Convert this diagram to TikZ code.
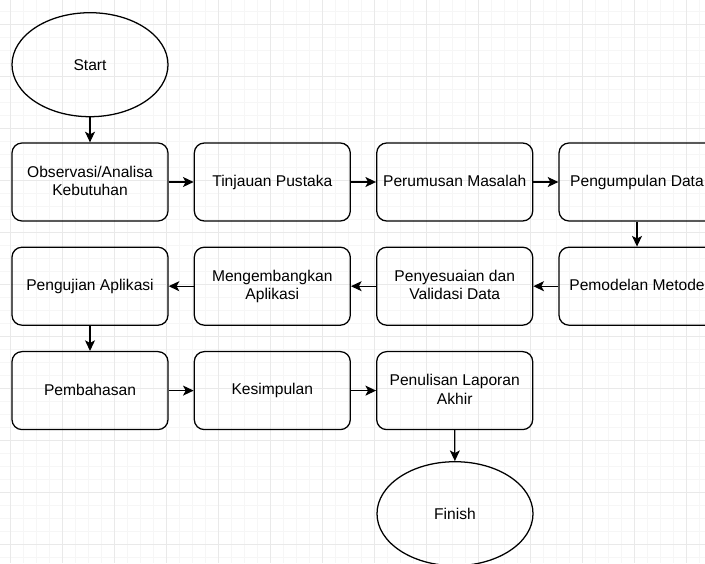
\documentclass[tikz,border=0pt]{standalone}
\usepackage{fontspec}
\setmainfont{Liberation Sans}
\usetikzlibrary{shapes.geometric,arrows.meta}
\definecolor{gridminor}{HTML}{F6F6F6}
\definecolor{gridmajor}{HTML}{E9E9E9}
\tikzset{
  stepbox/.style={draw, rounded corners=7.5pt, line width=0.95pt, minimum width=117pt,
    minimum height=58.5pt, align=center, font=\fontsize{11.7pt}{13.8pt}\selectfont,
    execute at begin node=\rule{0pt}{9pt}, execute at end node=\rule[-2pt]{0pt}{2pt}},
  terminal/.style={draw, ellipse, line width=0.95pt, minimum width=117pt,
    minimum height=78pt, font=\fontsize{11.7pt}{13.8pt}\selectfont},
  flow/.style={line width=0.95pt, -{Stealth[length=8pt, width=7.5pt, inset=2pt]}}
}
\begin{document}
\begin{tikzpicture}[x=0.75pt, y=-0.75pt]
  \useasboundingbox (0,0) rectangle (705,563);
  \clip (0,0) rectangle (705,563);
  \fill[white] (0,0) rectangle (705,563);
  \foreach \gx in {-2.3,10.7,...,710} \draw[gridminor, line width=0.75pt] (\gx,0) -- (\gx,563);
  \foreach \gy in {-1.3,11.7,...,570} \draw[gridminor, line width=0.75pt] (0,\gy) -- (705,\gy);
  \foreach \gx in {10.7,62.7,...,710} \draw[gridmajor, line width=0.75pt] (\gx,0) -- (\gx,563);
  \foreach \gy in {24.7,76.7,...,570} \draw[gridmajor, line width=0.75pt] (0,\gy) -- (705,\gy);

  \node[terminal] (start) at (90,64.7) {Start};

  \node[stepbox] (obs) at (90,182) {Observasi/Analisa\\Kebutuhan};
  \node[stepbox] (tinjauan) at (272.3,182) {Tinjauan Pustaka};
  \node[stepbox] (perumusan) at (454.7,182) {Perumusan Masalah};
  \node[stepbox] (pengumpulan) at (637,182) {Pengumpulan Data};

  \node[stepbox] (pemodelan) at (637,286.2) {Pemodelan Metode};
  \node[stepbox] (penyesuaian) at (454.7,286.2) {Penyesuaian dan\\Validasi Data};
  \node[stepbox] (mengembangkan) at (272.3,286.2) {Mengembangkan\\Aplikasi};
  \node[stepbox] (pengujian) at (90,286.2) {Pengujian Aplikasi};

  \node[stepbox] (pembahasan) at (90,390.6) {Pembahasan};
  \node[stepbox] (kesimpulan) at (272.3,390.6) {Kesimpulan};
  \node[stepbox] (penulisan) at (454.7,390.6) {Penulisan Laporan\\Akhir};

  \node[terminal] (finish) at (455,513.7) {Finish};

  \draw[flow] (start) -- (obs);
  \draw[flow] (obs) -- (tinjauan);
  \draw[flow] (tinjauan) -- (perumusan);
  \draw[flow] (perumusan) -- (pengumpulan);
  \draw[flow] (pengumpulan) -- (pemodelan);
  \draw[flow] (pemodelan) -- (penyesuaian);
  \draw[flow] (penyesuaian) -- (mengembangkan);
  \draw[flow] (mengembangkan) -- (pengujian);
  \draw[flow] (pengujian) -- (pembahasan);
  \draw[flow] (pembahasan) -- (kesimpulan);
  \draw[flow] (kesimpulan) -- (penulisan);
  \draw[flow] (penulisan) -- (finish);
\end{tikzpicture}
\end{document}
